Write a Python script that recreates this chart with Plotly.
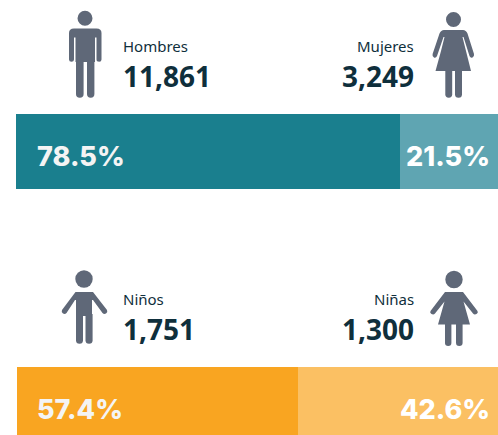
import plotly.graph_objects as go

# People counts and the labels printed in the picture
adult_labels = ["Hombres", "Mujeres"]
adult_counts = ["11,861", "3,249"]
adult_percent_labels = ["78.5%", "21.5%"]
child_labels = ["Niños", "Niñas"]
child_counts = ["1,751", "1,300"]
child_percent_labels = ["57.4%", "42.6%"]
# Segment lengths as drawn in the picture (the drawn split differs a little from the printed %)
adult_segments = [79.7, 20.3]
child_segments = [58.4, 41.6]

TEAL, TEAL_L = "#1A7F8E", "#5FA5B2"
ORANGE, ORANGE_L = "#F9A521", "#FBC063"
ICON = "#5F6878"
INK = "#0F2F3C"
W, H = 498, 435

fig = go.Figure()
for val, col in zip(adult_segments, [TEAL, TEAL_L]):
    fig.add_trace(go.Bar(x=[val], y=["a"], orientation="h", marker=dict(color=col, line_width=0),
                         xaxis="x", yaxis="y", hoverinfo="skip", showlegend=False))
for val, col in zip(child_segments, [ORANGE, ORANGE_L]):
    fig.add_trace(go.Bar(x=[val], y=["c"], orientation="h", marker=dict(color=col, line_width=0),
                         xaxis="x2", yaxis="y2", hoverinfo="skip", showlegend=False))

shapes = []
def head(cx, cy, r):
    shapes.append(dict(type="circle", xref="x3", yref="y3", x0=cx-r, x1=cx+r, y0=cy-r, y1=cy+r,
                       fillcolor=ICON, line_width=0, layer="above"))
def path(d):
    shapes.append(dict(type="path", xref="x3", yref="y3", path=d, fillcolor=ICON, line_width=0, layer="above"))
def leg(x0, x1, y0, y1):
    r = (x1 - x0) / 2
    path(f"M{x0},{y0} L{x1},{y0} L{x1},{y1-r} Q{x1},{y1} {x0+r},{y1} Q{x0},{y1} {x0},{y1-r} Z")

# Man
head(85, 18.3, 7.5)
path("M69,33 Q69,28.5 74,28.5 L96.5,28.5 Q101.5,28.5 101.5,33 L101.5,59.5 Q101.5,61.7 99.2,61.7 Q96.5,61.7 96.5,59.5 "
     "L96.5,37.5 L95,37.5 L95,62 L75.5,62 L75.5,37.5 L74,37.5 L74,59.5 Q74,61.7 71.5,61.7 Q69,61.7 69,59.5 Z")
leg(76, 83.6, 60, 97.7)
leg(87, 94.4, 60, 97.7)

# Woman
head(453.5, 19.5, 7.5)
path("M444,30 L463,30 Q466,30 467.5,33.5 L474,54 Q474.5,56.5 472.5,57.5 Q470.5,58.2 469.5,56 L463.5,37 "
     "L462.5,37 L466,51 L471,71 L435.5,71 L441,51 L444.5,37 L443.5,37 L437,56 Q436,58.2 434,57.5 Q432,56.5 432.6,54 "
     "L439.5,33.5 Q441,30 444,30 Z")
leg(445.3, 452.2, 70, 97.7)
leg(455, 462, 70, 97.7)

# Boy
head(84, 279, 8.7)
path("M75.5,292 L93,292 L107,310 Q108,312 106,313.5 Q104,314.5 102.5,313 L93,300 L92,300 L92,316 L76,316 L76,300 L75,300 "
     "L66.5,313 Q65,314.5 63,313.5 Q61,312 62,310 Z")
leg(76, 83, 314, 343.7)
leg(85.5, 92.6, 314, 343.7)

# Girl
head(454, 279.5, 8.7)
path("M445,292 L463,292 L477.5,311 Q478.5,313 476.5,314 Q474.5,315 473,313.5 L463.5,301.5 L470,324.5 L438,324.5 "
     "L444.5,301.5 L435,313.5 Q433.5,315 431.5,314 Q429.5,313 430.5,311 Z")
leg(445, 451.4, 323, 346)
leg(456, 462.6, 323, 346)

def note(x, y, text, anchor, size, color, family, weight=400):
    return dict(xref="x3", yref="y3", x=x, y=y, text=text, showarrow=False, xanchor=anchor, yanchor="middle",
                font=dict(size=size, color=color, family=family, weight=weight), borderpad=0, borderwidth=0)

LABEL = "Noto Sans"
PCT = "Inter"
annotations = [
    note(123, 45.5, adult_labels[0], "left", 15, INK, LABEL),
    note(414, 45.5, adult_labels[1], "right", 15, INK, LABEL),
    note(123, 76, adult_counts[0], "left", 28, INK, LABEL, 700),
    note(414, 76, adult_counts[1], "right", 28, INK, LABEL, 700),
    note(37, 156, adult_percent_labels[0], "left", 27, "#F4F4F4", PCT, 800),
    note(490, 156, adult_percent_labels[1], "right", 27, "#FFFFFF", PCT, 800),
    note(123, 298.5, child_labels[0], "left", 15, INK, LABEL),
    note(414, 298.5, child_labels[1], "right", 15, INK, LABEL),
    note(123, 328.5, child_counts[0], "left", 28, INK, LABEL, 700),
    note(414, 328.5, child_counts[1], "right", 28, INK, LABEL, 700),
    note(37, 409, child_percent_labels[0], "left", 27, "#F4F4F4", PCT, 800),
    note(490, 409, child_percent_labels[1], "right", 27, "#FFFFFF", PCT, 800),
]

hidden = dict(visible=False, fixedrange=True)
fig.update_layout(
    width=W, height=H, margin=dict(l=0, r=0, t=0, b=0), paper_bgcolor="white", plot_bgcolor="rgba(0,0,0,0)",
    barmode="stack", bargap=0, showlegend=False, shapes=shapes, annotations=annotations,
    xaxis=dict(domain=[16/W, 1], range=[0, 100], anchor="y", **hidden),
    yaxis=dict(domain=[1-189/H, 1-114/H], range=[-0.5, 0.5], anchor="x", **hidden),
    xaxis2=dict(domain=[17/W, 1], range=[0, 100], anchor="y2", **hidden),
    yaxis2=dict(domain=[0, 68/H], range=[-0.5, 0.5], anchor="x2", **hidden),
    xaxis3=dict(domain=[0, 1], range=[0, W], anchor="y3", **hidden),
    yaxis3=dict(domain=[0, 1], range=[H, 0], anchor="x3", **hidden),
)
fig.write_html("out.html", config={"displayModeBar": False},
               post_script="document.body.style.margin='0';document.body.style.overflow='hidden';")
